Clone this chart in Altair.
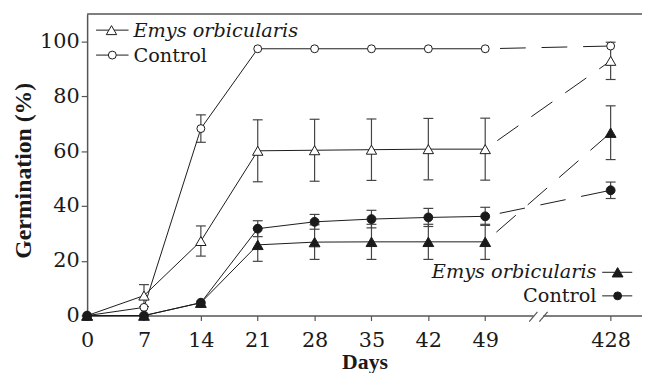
import altair as alt
import pandas as pd

# ---------------- data ----------------
days = [0, 7, 14, 21, 28, 35, 42, 49, 428]
x_labels = ["0", "7", "14", "21", "28", "35", "42", "49", "428"]

emys_open = [0, 7.3, 27.2, 60.1, 60.3, 60.5, 60.7, 60.7, 92.9]
emys_open_err = [0, 4.0, 5.5, 11.3, 11.3, 11.2, 11.2, 11.3, 6.8]

control_open = [0, 3.0, 68.2, 97.3, 97.3, 97.3, 97.3, 97.3, 98.3]
control_open_err = [0, 0, 5.0, 0, 0, 0, 0, 0, 0]

emys_filled = [0, 0, 4.7, 25.8, 26.8, 26.9, 26.9, 26.9, 66.7]
emys_filled_err = [0, 0, 0, 6.0, 6.3, 6.4, 6.4, 6.4, 9.8]

control_filled = [0, 0, 4.7, 31.7, 34.2, 35.2, 35.8, 36.2, 45.7]
control_filled_err = [0, 0, 0, 2.9, 2.7, 3.2, 3.3, 3.3, 3.0]

legend_names = ["Emys orbicularis", "Control"]

# ---------------- layout (broken axis) ----------------
BREAK_POS = 64.44          # where day 428 is placed after the axis break
XMAX = 68.3
YMAX = 110
x_pos = [d if d <= 49 else BREAK_POS for d in days]

FONT = "DejaVu Serif"
BFONT = "Liberation Serif"
INK = "#1a1a1a"
AXC = "#555555"

series = [
    ("emys_open", emys_open, emys_open_err),
    ("control_open", control_open, control_open_err),
    ("emys_filled", emys_filled, emys_filled_err),
    ("control_filled", control_filled, control_filled_err),
]
rows = []
for name, vals, errs in series:
    for d, p, v, e in zip(days, x_pos, vals, errs):
        rows.append(dict(series=name, day=d, pos=p, val=v, err=e,
                         lo=v - e, hi=v + e))
df = pd.DataFrame(rows)

xs = alt.Scale(domain=[0, XMAX], nice=False, zero=False)
ys = alt.Scale(domain=[0, YMAX], nice=False, zero=False)

label_expr = f"datum.value > 55 ? '{x_labels[-1]}' : datum.label"
X = alt.X("pos:Q", scale=xs,
          axis=alt.Axis(values=x_pos, labelExpr=label_expr, format="d",
                        title="Days", titleY=53, titleBaseline="alphabetic",
                        labelPadding=9))
Y = alt.Y("val:Q", scale=ys,
          axis=alt.Axis(values=list(range(0, 101, 10)),
                        labelExpr="datum.value % 20 == 0 ? datum.label : ''",
                        title="Germination (%)", titleX=-64, titleY=158,
                        titleAlign="center", titleBaseline="middle",
                        titleFontSize=24, labelPadding=2, tickSize=6))

base = alt.Chart(df)

# error bars
eb = base.transform_filter("datum.err > 0")
err_rule = eb.mark_rule(color="#444", strokeWidth=1.2).encode(
    x=alt.X("pos:Q", scale=xs), y=alt.Y("lo:Q", scale=ys), y2="hi:Q")
cap_shape = "M-1,0L1,0"
cap_lo = eb.mark_point(shape=cap_shape, size=100, filled=False, color="#444",
                       strokeWidth=1.2, opacity=1).encode(
    x=alt.X("pos:Q", scale=xs), y=alt.Y("lo:Q", scale=ys))
cap_hi = eb.mark_point(shape=cap_shape, size=100, filled=False, color="#444",
                       strokeWidth=1.2, opacity=1).encode(
    x=alt.X("pos:Q", scale=xs), y=alt.Y("hi:Q", scale=ys))

# lines
solid = base.transform_filter("datum.day <= 49").mark_line(
    color=INK, strokeWidth=1).encode(x=X, y=Y, detail="series:N", order="day:Q")
dashed = base.transform_filter("datum.day >= 49").mark_line(
    color=INK, strokeWidth=1, strokeDash=[26, 16], strokeDashOffset=27).encode(
    x=alt.X("pos:Q", scale=xs), y=alt.Y("val:Q", scale=ys),
    detail="series:N", order="day:Q")


def pts(data, shape, filled, size):
    fill = INK if filled else "white"
    return data.mark_point(shape=shape, filled=True, fill=fill, stroke=INK,
                           strokeWidth=1, size=size, opacity=1).encode(
        x=alt.X("pos:Q", scale=xs), y=alt.Y("val:Q", scale=ys))


p_eo = pts(base.transform_filter("datum.series == 'emys_open'"), "triangle-up", False, 110)
p_co = pts(base.transform_filter("datum.series == 'control_open'"), "circle", False, 64)
p_ef = pts(base.transform_filter("datum.series == 'emys_filled'"), "triangle-up", True, 120)
p_cf = pts(base.transform_filter("datum.series == 'control_filled'"), "circle", True, 80)

# top frame line
top = alt.Chart(pd.DataFrame({"x": [0], "x2": [XMAX], "y": [YMAX]})).mark_rule(
    color=AXC, strokeWidth=1.5).encode(
    x=alt.X("x:Q", scale=xs), x2="x2:Q", y=alt.Y("y:Q", scale=ys))

# axis break marks
gap = alt.Chart(pd.DataFrame({"x": [54.95], "x2": [56.15], "y": [0]})).mark_rule(
    color="white", strokeWidth=4).encode(
    x=alt.X("x:Q", scale=xs), x2="x2:Q", y=alt.Y("y:Q", scale=ys))
slashes = alt.Chart(pd.DataFrame({
    "x": [54.42, 55.67], "x2": [55.43, 56.68],
    "y": [-2.2, -2.2], "y2": [1.4, 1.4]})).mark_rule(
    color=AXC, strokeWidth=1.2).encode(
    x=alt.X("x:Q", scale=xs), x2="x2:Q", y=alt.Y("y:Q", scale=ys), y2="y2:Q")

# legends (custom)
leg_seg = pd.DataFrame({"x": [1.1, 1.1, 63.4, 63.4], "x2": [5.1, 5.1, 67.1, 67.1],
                        "y": [104.1, 95.0, 15.8, 7.2]})
leg_lines = alt.Chart(leg_seg).mark_rule(color=INK, strokeWidth=1).encode(
    x=alt.X("x:Q", scale=xs), x2="x2:Q", y=alt.Y("y:Q", scale=ys))
leg_p = [
    alt.Chart(pd.DataFrame({"x": [3.0], "y": [104.1]})).mark_point(
        shape="triangle-up", filled=True, fill="white", stroke=INK, strokeWidth=1,
        size=110, opacity=1),
    alt.Chart(pd.DataFrame({"x": [3.1], "y": [95.0]})).mark_point(
        shape="circle", filled=True, fill="white", stroke=INK, strokeWidth=1,
        size=64, opacity=1),
    alt.Chart(pd.DataFrame({"x": [65.3], "y": [15.8]})).mark_point(
        shape="triangle-up", filled=True, fill=INK, stroke=INK, strokeWidth=1,
        size=120, opacity=1),
    alt.Chart(pd.DataFrame({"x": [65.3], "y": [7.2]})).mark_point(
        shape="circle", filled=True, fill=INK, stroke=INK, strokeWidth=1,
        size=64, opacity=1),
]
leg_p = [c.encode(x=alt.X("x:Q", scale=xs), y=alt.Y("y:Q", scale=ys)) for c in leg_p]


def leg_text(x, y, text, italic, align):
    return alt.Chart(pd.DataFrame({"x": [x], "y": [y], "t": [text]})).mark_text(
        align=align, baseline="alphabetic", font=FONT, fontSize=19.5, color=INK,
        fontStyle="italic" if italic else "normal").encode(
        x=alt.X("x:Q", scale=xs), y=alt.Y("y:Q", scale=ys), text="t:N")


texts = [
    leg_text(5.7, 101.5, legend_names[0], True, "left"),
    leg_text(5.7, 92.5, legend_names[1], False, "left"),
    leg_text(62.7, 13.6, legend_names[0], True, "right"),
    leg_text(62.7, 5.1, legend_names[1], False, "right"),
]

chart = alt.layer(
    top, err_rule, cap_lo, cap_hi, solid, dashed,
    p_eo, p_co, p_ef, p_cf,
    gap, slashes, leg_lines, *leg_p, *texts,
).properties(
    width=561, height=305,
    autosize=alt.AutoSizeParams(type="none"),
    padding={"left": 80, "top": 4, "right": 0, "bottom": 56},
).configure_view(stroke=None).configure_axis(
    grid=False, domainColor=AXC, domainWidth=1.5, tickColor=AXC, tickWidth=1.2,
    tickSize=5, labelFont=FONT, labelFontSize=21, labelColor=INK,
    titleFont=BFONT, titleFontSize=22, titleFontWeight="bold", titleColor=INK,
    labelFlush=False, labelOverlap=False,
)

chart.save("out.html", embed_options={"renderer": "svg", "actions": False})
